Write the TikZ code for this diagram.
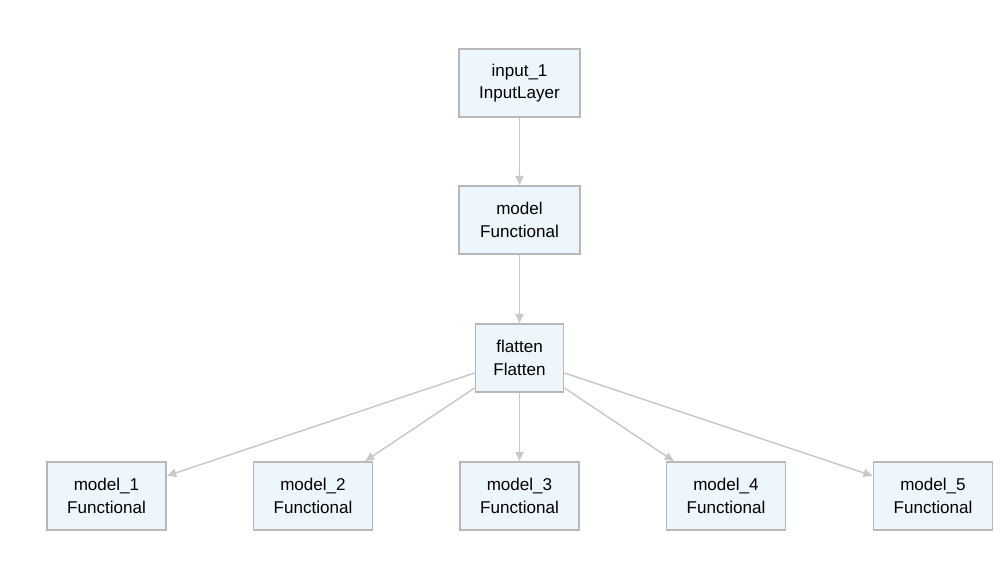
\documentclass[tikz,border=0pt]{standalone}
\usepackage{fontspec}
\setmainfont{Liberation Sans}
\usetikzlibrary{arrows.meta}
\definecolor{boxfill}{HTML}{EEF6FD}
\definecolor{boxline}{HTML}{B8B8B8}
\definecolor{edgecol}{HTML}{C8C8C8}
\begin{document}
\begin{tikzpicture}[x=0.75pt,y=-0.75pt,
  layer/.style={draw=boxline,line width=1.2pt,fill=boxfill,minimum height=51pt,
    align=center,inner sep=0pt,font=\fontsize{12.8}{16.8}\selectfont},
  edge/.style={draw=edgecol,line width=1.1pt,-{Triangle[length=7pt,width=6pt]}}]
\useasboundingbox (0,0) rectangle (1000,580);
\node[layer,minimum width=90.75pt] (in) at (519.5,83) {input\_1\\InputLayer};
\node[layer,minimum width=90.75pt] (m) at (519.5,220) {model\\Functional};
\node[layer,minimum width=66pt] (fl) at (519.5,358) {flatten\\Flatten};
\node[layer,minimum width=89.25pt] (m1) at (106.5,496) {model\_1\\Functional};
\node[layer,minimum width=89.25pt] (m2) at (313,496) {model\_2\\Functional};
\node[layer,minimum width=89.25pt] (m3) at (519.5,496) {model\_3\\Functional};
\node[layer,minimum width=89.25pt] (m4) at (726,496) {model\_4\\Functional};
\node[layer,minimum width=89.25pt] (m5) at (933,496) {model\_5\\Functional};
\draw[edge] (in) -- (m);
\draw[edge] (m) -- (fl);
\foreach \t in {m1,m2,m3,m4,m5} \draw[edge] (fl) -- (\t);
\end{tikzpicture}
\end{document}
